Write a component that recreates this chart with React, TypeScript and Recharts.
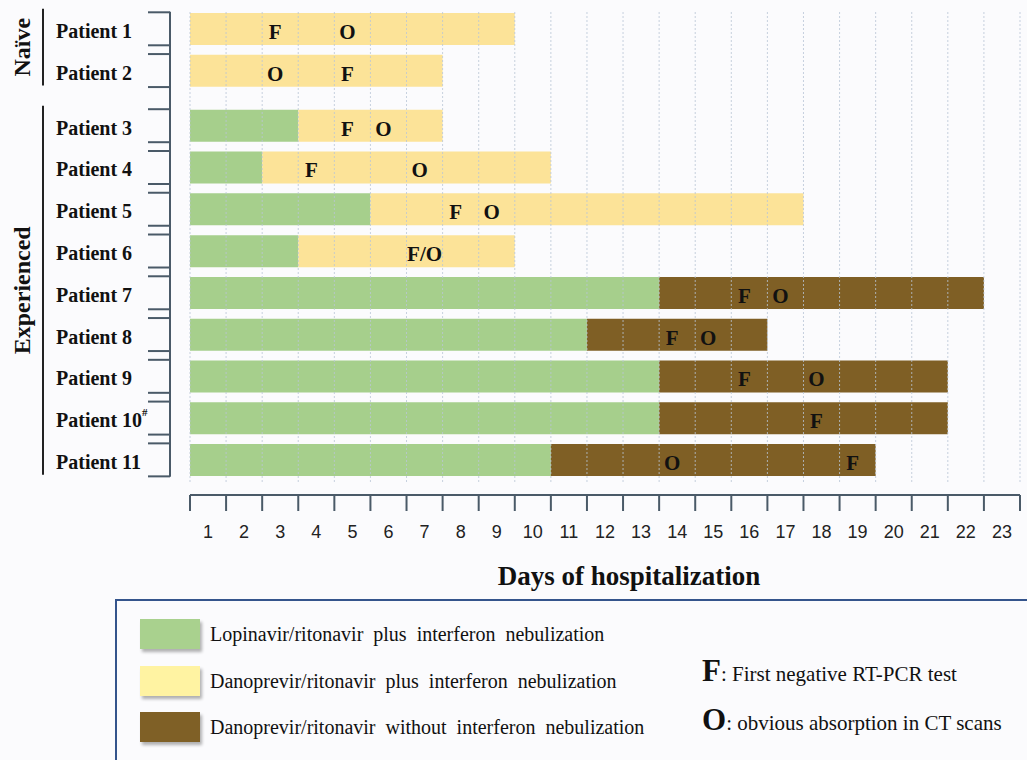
import React from 'react';
import { BarChart, Bar, XAxis, YAxis, ReferenceLine, ReferenceDot } from 'recharts';

// rows, top to bottom
const patients = ['Patient 1', 'Patient 2', 'Patient 3', 'Patient 4', 'Patient 5', 'Patient 6',
  'Patient 7', 'Patient 8', 'Patient 9', 'Patient 10', 'Patient 11'];
const patientNotes = ['', '', '', '', '', '', '', '', '', '#', ''];
const groupNames = ['Naïve', 'Experienced'];
const groupSizes = [2, 9];

// days on each regimen
const lopinavirDays = [0, 0, 3, 2, 5, 3, 13, 11, 13, 13, 10];
const danoIfnDays = [9, 7, 4, 8, 12, 6, 0, 0, 0, 0, 0];
const danoOnlyDays = [0, 0, 0, 0, 0, 0, 9, 5, 8, 8, 9];

// day (1-based) of the events
const firstNegativeDay = [3, 5, 5, 4, 8, 7, 16, 14, 16, 18, 19];
const ctAbsorptionDay: (number | null)[] = [5, 3, 6, 7, 9, 7, 17, 15, 18, null, 14];

const dayLabels = ['1', '2', '3', '4', '5', '6', '7', '8', '9', '10', '11', '12', '13', '14',
  '15', '16', '17', '18', '19', '20', '21', '22', '23'];

const series = [
  { key: 'lopinavir', name: 'Lopinavir/ritonavir plus interferon nebulization', fill: '#a6cf8c', swatch: '#a9d18e' },
  { key: 'danoIfn', name: 'Danoprevir/ritonavir plus interferon nebulization', fill: '#fce398', swatch: '#fff3a2' },
  { key: 'danoOnly', name: 'Danoprevir/ritonavir without interferon nebulization', fill: '#7f5f25', swatch: '#7f6026' },
];

const SERIF = '"Liberation Serif", "Times New Roman", serif';
const SANS = '"Liberation Sans", Arial, sans-serif';
const INK = '#111';
const AXIS_COLOR = '#4a5a68';

const W = 1027;
const CHART_H = 598;
const MARGIN = { top: 10, right: 7, bottom: 6, left: 0 };
const Y_AXIS_W = 190;
const X_AXIS_H = 110;
const PLOT_W = W - Y_AXIS_W - MARGIN.right;
const PLOT_H = CHART_H - MARGIN.top - MARGIN.bottom - X_AXIS_H;
const UNIT = PLOT_W / dayLabels.length;
const Y_DOMAIN: [number, number] = [-0.45, 10.85];
const GROUP_GAP = 0.32;

const rowPos = (i: number) => i + (i >= groupSizes[0] ? GROUP_GAP : 0);
const py = (pos: number) =>
  MARGIN.top + ((pos - Y_DOMAIN[0]) / (Y_DOMAIN[1] - Y_DOMAIN[0])) * PLOT_H;

const data = patients.map((name, i) => ({
  name,
  pos: rowPos(i),
  lopinavir: lopinavirDays[i],
  danoIfn: danoIfnDays[i],
  danoOnly: danoOnlyDays[i],
}));

const markers: { day: number; pos: number; text: string }[] = [];
patients.forEach((_, i) => {
  const f = firstNegativeDay[i];
  const o = ctAbsorptionDay[i];
  if (o === f) {
    markers.push({ day: f, pos: rowPos(i), text: 'F/O' });
  } else {
    markers.push({ day: f, pos: rowPos(i), text: 'F' });
    if (o != null) markers.push({ day: o, pos: rowPos(i), text: 'O' });
  }
});

const xTicks = [0, ...dayLabels.map(Number)];

const PatientTick = (props: any) => {
  const { y, payload } = props;
  const i = data.findIndex((d) => Math.abs(d.pos - payload.value) < 1e-6);
  if (i < 0) return null;
  return (
    <g>
      <line x1={148} x2={170} y1={y - 16.5} y2={y - 16.5} stroke={AXIS_COLOR} strokeWidth={2} />
      <line x1={148} x2={170} y1={y + 16.5} y2={y + 16.5} stroke={AXIS_COLOR} strokeWidth={2} />
      <text x={56} y={y + 2} dominantBaseline="central" fontFamily={SERIF} fontWeight="bold"
        fontSize={20} fill={INK}>
        {patients[i]}
        {patientNotes[i] && <tspan dy={-8} fontSize={11}>{patientNotes[i]}</tspan>}
      </text>
    </g>
  );
};

const DayTick = (props: any) => {
  const { x, y, payload } = props;
  const v = payload.value as number;
  const lineY = y + 13;
  return (
    <g>
      {v === 0 && (
        <line x1={x} x2={x + PLOT_W} y1={lineY} y2={lineY} stroke={AXIS_COLOR} strokeWidth={2} />
      )}
      <line x1={x} x2={x} y1={lineY} y2={lineY + 16} stroke={AXIS_COLOR} strokeWidth={2} />
      {v > 0 && (
        <text x={x - UNIT / 2} y={lineY + 37} textAnchor="middle" dominantBaseline="central"
          fontFamily={SANS} fontSize={18} fill="#222">
          {dayLabels[v - 1]}
        </text>
      )}
    </g>
  );
};

const AxisTitle = (props: any) => {
  const { viewBox } = props;
  return (
    <text x={viewBox.x + viewBox.width / 2 + 24} y={viewBox.y + 103} textAnchor="middle"
      fontFamily={SERIF} fontWeight="bold" fontSize={27} fill={INK}>
      Days of hospitalization
    </text>
  );
};

const GroupDecor = () => {
  let start = 0;
  const parts = groupNames.map((g, gi) => {
    const first = rowPos(start);
    const last = rowPos(start + groupSizes[gi] - 1);
    start += groupSizes[gi];
    const top = py(first) - 20;
    const bottom = py(last) + 15;
    const mid = (top + bottom) / 2;
    return (
      <g key={g}>
        <line x1={43} x2={43} y1={top} y2={bottom} stroke="#222" strokeWidth={2} />
        <text x={22} y={mid} transform={`rotate(-90 22 ${mid})`} textAnchor="middle"
          dominantBaseline="central" fontFamily={SERIF} fontWeight="bold" fontSize={24} fill={INK}>
          {g}
        </text>
      </g>
    );
  });
  return (
    <g>
      <line x1={170} x2={170} y1={py(rowPos(0)) - 17} y2={py(rowPos(patients.length - 1)) + 17}
        stroke={AXIS_COLOR} strokeWidth={2} />
      {parts}
    </g>
  );
};

const LegendBox = () => (
  <div style={{
    position: 'absolute', left: 115, top: 599, width: 940, height: 200,
    border: '2px solid #34548c', boxSizing: 'border-box', fontFamily: SERIF, color: INK,
  }}>
    {series.map((s, i) => (
      <React.Fragment key={s.key}>
        <div style={{
          position: 'absolute', left: 23, top: 18 + i * 46.5, width: 60, height: 30,
          background: s.swatch, boxShadow: '2px 3px 3px rgba(0,0,0,0.3)',
        }} />
        <div style={{
          position: 'absolute', left: 93, top: 18 + i * 46.5, fontSize: 20, lineHeight: '30px',
          wordSpacing: 5, whiteSpace: 'nowrap',
        }}>{s.name}</div>
      </React.Fragment>
    ))}
    <div style={{ position: 'absolute', left: 585, top: 52, whiteSpace: 'nowrap', fontSize: 21, lineHeight: '36px' }}>
      <span style={{ fontSize: 31, fontWeight: 'bold' }}>F</span>: First negative RT-PCR test
    </div>
    <div style={{ position: 'absolute', left: 585, top: 101, whiteSpace: 'nowrap', fontSize: 21, lineHeight: '36px' }}>
      <span style={{ fontSize: 31, fontWeight: 'bold' }}>O</span>: obvious absorption in CT scans
    </div>
  </div>
);

export default function App() {
  return (
    <div style={{
      position: 'absolute', left: 0, top: 0, width: W, height: 760, overflow: 'hidden',
      background: '#fbfbfd',
    }}>
      <BarChart width={W} height={CHART_H} data={data} layout="vertical" margin={MARGIN}>
        <XAxis type="number" domain={[0, dayLabels.length]} ticks={xTicks} interval={0}
          axisLine={false} tickLine={false} tickSize={0} tickMargin={0} height={X_AXIS_H}
          tick={<DayTick />} label={<AxisTitle />} />
        <YAxis type="number" dataKey="pos" domain={Y_DOMAIN} allowDataOverflow
          ticks={data.map((d) => d.pos)} interval={0} width={Y_AXIS_W}
          axisLine={false} tickLine={false} tick={<PatientTick />} />
        {series.map((s) => (
          <Bar key={s.key} dataKey={s.key} name={s.name} stackId="days" fill={s.fill}
            barSize={32} isAnimationActive={false} />
        ))}
        {xTicks.map((t) => (
          <ReferenceLine key={t} x={t} stroke="#b9c6d6" strokeOpacity={0.8}
            strokeDasharray="2 2" strokeWidth={1} />
        ))}
        {markers.map((m, i) => (
          <ReferenceDot key={i} x={m.day - 0.5} y={m.pos} r={0}
            shape={(p: any) => (
              <text x={p.cx - (m.text.length > 1 ? 0 : 5)} y={p.cy + 3} textAnchor="middle"
                dominantBaseline="central" fontFamily={SERIF} fontWeight="bold" fontSize={21} fill={INK}>
                {m.text}
              </text>
            )} />
        ))}
        <GroupDecor />
      </BarChart>
      <LegendBox />
    </div>
  );
}
